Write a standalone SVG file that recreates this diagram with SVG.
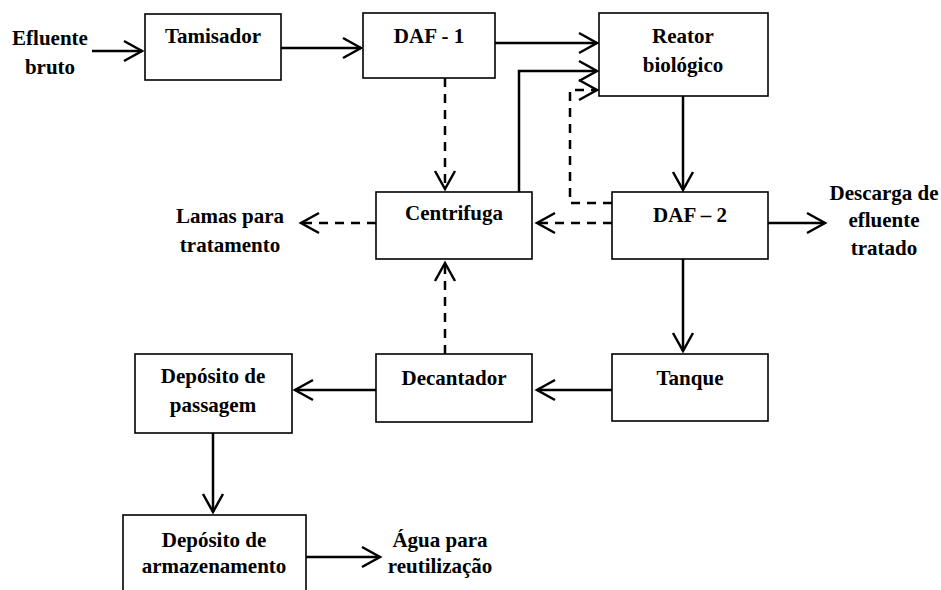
<svg xmlns="http://www.w3.org/2000/svg" width="941" height="590" viewBox="0 0 941 590">
<style>
.box{fill:#fff;stroke:#000;stroke-width:1.6}
.t{font-family:"Liberation Serif","Times New Roman","DejaVu Serif",serif;font-weight:bold;font-size:21px;text-anchor:middle;fill:#000}
.s{fill:none;stroke:#000;stroke-width:2.5}
.d{fill:none;stroke:#000;stroke-width:2.5;stroke-dasharray:9 7}
</style>
<defs>
<marker id="a" markerUnits="userSpaceOnUse" markerWidth="26" markerHeight="26" viewBox="-22 -13 26 26" refX="0" refY="0" orient="auto">
<path d="M-18,-10 L0,0 L-18,10" fill="none" stroke="#000" stroke-width="2.5"/>
</marker>
</defs>
<g id="connectors">
<line class="s" x1="92" y1="51" x2="142" y2="51" marker-end="url(#a)"/>
<line class="s" x1="281" y1="48" x2="361" y2="48" marker-end="url(#a)"/>
<line class="s" x1="495" y1="43" x2="597" y2="43" marker-end="url(#a)"/>
<polyline class="s" points="519,192 519,71 597,71" marker-end="url(#a)"/>
<polyline class="d" points="612,203 570,203 570,90 597,90" marker-end="url(#a)"/>
<line class="d" x1="445" y1="78" x2="445" y2="189" marker-end="url(#a)"/>
<line class="s" x1="683" y1="96" x2="683" y2="190" marker-end="url(#a)"/>
<line class="d" x1="376" y1="223" x2="301" y2="223" marker-end="url(#a)"/>
<line class="d" x1="612" y1="223" x2="537" y2="223" marker-end="url(#a)"/>
<line class="s" x1="768" y1="223" x2="825" y2="223" marker-end="url(#a)"/>
<line class="s" x1="683" y1="259" x2="683" y2="351" marker-end="url(#a)"/>
<line class="d" x1="445" y1="354" x2="445" y2="263" marker-end="url(#a)"/>
<line class="s" x1="612" y1="390" x2="537" y2="390" marker-end="url(#a)"/>
<line class="s" x1="376" y1="390" x2="295" y2="390" marker-end="url(#a)"/>
<line class="s" x1="213" y1="433" x2="213" y2="512" marker-end="url(#a)"/>
<line class="s" x1="306" y1="557" x2="380" y2="557" marker-end="url(#a)"/>
</g>
<g id="efluente-bruto">
<text class="t" x="50" y="45">Efluente</text>
<text class="t" x="50" y="74">bruto</text>
</g>
<g id="tamisador">
<rect class="box" x="145" y="14" width="136" height="66"/>
<text class="t" x="213" y="43">Tamisador</text>
</g>
<g id="daf1">
<rect class="box" x="363" y="13" width="132" height="65"/>
<text class="t" x="429" y="43">DAF - 1</text>
</g>
<g id="reator">
<rect class="box" x="599" y="13" width="169" height="83"/>
<text class="t" x="683" y="43">Reator</text>
<text class="t" x="683" y="72">biológico</text>
</g>
<g id="centrifuga">
<rect class="box" x="376" y="192" width="156" height="67"/>
<text class="t" x="454" y="220">Centrifuga</text>
</g>
<g id="lamas">
<text class="t" x="230" y="223">Lamas para</text>
<text class="t" x="230" y="252">tratamento</text>
</g>
<g id="daf2">
<rect class="box" x="612" y="192" width="156" height="67"/>
<text class="t" x="690" y="222">DAF – 2</text>
</g>
<g id="descarga">
<text class="t" x="884" y="200">Descarga de</text>
<text class="t" x="884" y="227">efluente</text>
<text class="t" x="884" y="255">tratado</text>
</g>
<g id="tanque">
<rect class="box" x="612" y="354" width="156" height="67"/>
<text class="t" x="690" y="385">Tanque</text>
</g>
<g id="decantador">
<rect class="box" x="376" y="354" width="156" height="68"/>
<text class="t" x="454" y="385">Decantador</text>
</g>
<g id="deposito-passagem">
<rect class="box" x="135" y="354" width="157" height="79"/>
<text class="t" x="213" y="383">Depósito de</text>
<text class="t" x="213" y="412">passagem</text>
</g>
<g id="deposito-armazenamento">
<rect class="box" x="123" y="515" width="183" height="90"/>
<text class="t" x="214" y="547">Depósito de</text>
<text class="t" x="214" y="573">armazenamento</text>
</g>
<g id="agua">
<text class="t" x="440" y="547">Água para</text>
<text class="t" x="440" y="573">reutilização</text>
</g>
</svg>
